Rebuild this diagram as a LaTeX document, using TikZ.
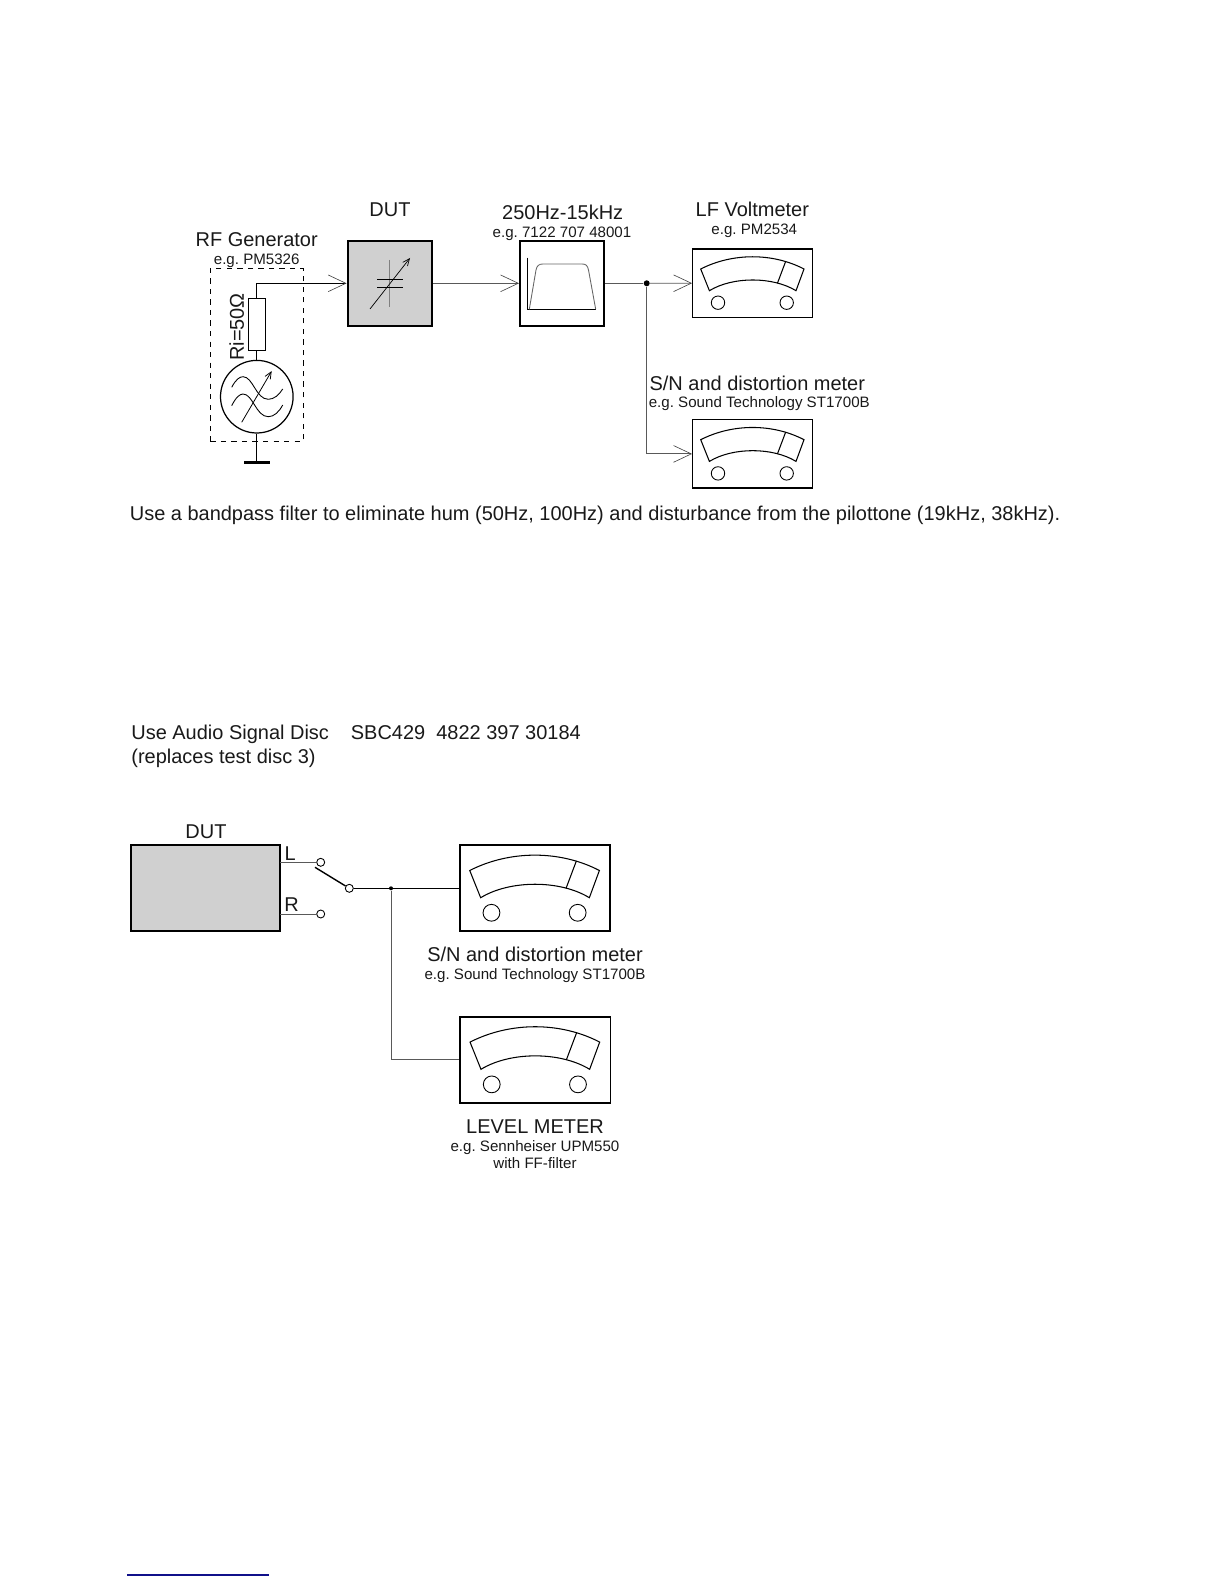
\documentclass[tikz,border=0pt]{standalone}
\usepackage{fontspec}
\setmainfont{Liberation Sans}
\usetikzlibrary{arrows.meta}
\definecolor{dutgray}{HTML}{D0D0D0}
\definecolor{linkblue}{HTML}{10108A}
\frenchspacing
\tikzset{
  bigtxt/.style={inner sep=0pt,font=\fontsize{11.37}{13}\selectfont},
  smalltxt/.style={inner sep=0pt,font=\fontsize{8.6}{10}\selectfont},
  sig/.style={black!65,line width=0.5pt},
  wire/.style={black,line width=0.6pt},
  feed/.style={-{Straight Barb[length=0.354cm,width=0.334cm,black!75,line width=0.35pt]}},
  heavybox/.style={draw,line width=1.2pt,inner sep=0pt,minimum width=84.3*0.02cm,minimum height=85.3*0.02cm},
  meterbox/.style={draw,line width=0.8pt,inner sep=0pt,minimum width=120*0.02cm,minimum height=68.3*0.02cm},
  bigmeterbox/.style={draw,line width=1pt,inner sep=0pt,minimum width=150.5*0.02cm,minimum height=86*0.02cm},
  port/.style={circle,draw,fill=white,line width=0.5pt,inner sep=0pt,minimum size=8*0.02cm},
  junction/.style={circle,fill=black,inner sep=0pt},
  dial/.pic={
    \draw[line width=0.6pt] (-52,-14.2) .. controls (-20,-30.5) and (20,-30.5) .. (51.3,-14.2)
      -- (43.3,7.5) .. controls (20,-6.8) and (-20,-6.8) .. (-43.3,7.5) -- cycle;
    \draw[line width=0.6pt] (33,-21.9) -- (24.7,0.1);
    \draw[line width=0.5pt] (-34.7,19.5) circle[radius=6.7];
    \draw[line width=0.5pt] (34,19.5) circle[radius=6.7];
  },
}
\begin{document}
\begin{tikzpicture}[x=0.02cm,y=-0.02cm,text=black!90]
\useasboundingbox (0,0) rectangle (1224,1584);
% --- top setup: blocks ---
\node[draw,dashed,line width=0.5pt,minimum width=93*0.02cm,minimum height=173*0.02cm,inner sep=0pt] (genbox) at (256.8,354.8) {};
\node[draw,line width=0.6pt,inner sep=0pt,minimum width=16.6*0.02cm,minimum height=52*0.02cm] (ri) at (256.8,324.3) {};
\node[circle,draw,line width=0.7pt,inner sep=0pt,minimum size=72.6*0.02cm] (gen) at (256.8,396.7) {};
\node[heavybox,fill=dutgray] (dut) at (389.8,283.3) {};
\node[heavybox] (bpf) at (562.2,283.3) {};
\node[meterbox] (lfmeter) at (752.7,283.2) {};
\node[meterbox] (snmeter) at (752.7,453.9) {};
\pic at (lfmeter) {dial};
\pic at (snmeter) {dial};
\node[junction,minimum size=6*0.02cm] (split) at (646.7,283.3) {};
\coordinate (snbend) at (646.7,453.9);
\coordinate (gnd) at (256.8,462.3);
% --- top setup: connectors ---
\draw[wire,feed] (ri.north) |- (dut.west);
\draw[wire] (ri.south) -- (gen.north);
\draw[wire] (gen.south) -- (gnd);
\draw[line width=1.4pt] (244,462.3) -- (270,462.3);
\draw[sig,feed] (dut.east) -- (bpf.west);
\draw[sig] (bpf.east) -- (split);
\draw[sig,feed] (split) -- (lfmeter.west);
\draw[sig] (split) -- (snbend);
\draw[sig,feed] (snbend) -- (snmeter.west);
% --- generator symbol ---
\draw[line width=0.45pt,-{Straight Barb[length=0.14cm,width=0.12cm]}] (241.7,422.3) -- (271.7,371);
\draw[line width=0.5pt] (231.7,387.3) .. controls (236,379) and (240,376.7) .. (243,376.7) .. controls (253,376.7) and (256,399.3) .. (268.3,399.3) .. controls (274,399.3) and (279,395) .. (282.7,389);
\draw[line width=0.5pt] (231.7,405.7) .. controls (236,397) and (240,394) .. (243,394) .. controls (253,394) and (256,416.7) .. (268.3,416.7) .. controls (274,416.7) and (279,412) .. (282.7,405);
% --- variable capacitor ---
\draw[black!50,line width=0.6pt] (389.7,260) -- (389.7,307.3);
\draw[line width=0.6pt] (377,279.3) -- (402.7,279.3);
\draw[line width=0.6pt] (377,287.3) -- (402.7,287.3);
\draw[line width=0.4pt,-{Straight Barb[length=0.14cm,width=0.12cm]}] (370,309) -- (410,258);
% --- filter curve ---
\draw[line width=0.6pt] (527.3,257.7) -- (527.3,309.3) -- (595.7,309.3);
\draw[black!60,line width=0.5pt] (529.3,309.3) -- (536,270) .. controls (537,265.5) and (539,264) .. (543,264)
  -- (582,264) .. controls (586,264) and (587.5,265.5) .. (588.5,270) -- (595.7,309.3);
% --- top setup: labels ---
\node[bigtxt] (rflabel) at (256.7,239.5) {RF Generator};
\node[smalltxt] (rfnote) at (256.7,260.3) {e.g. PM5326};
\node[bigtxt,rotate=90] (rilabel) at (236.7,327) {Ri=50Ω};
\node[bigtxt] (dutlabel) at (390,209.5) {DUT};
\node[bigtxt] (bpflabel) at (562.7,212.7) {250Hz-15kHz};
\node[smalltxt] (bpfnote) at (562,234) {e.g. 7122 707 48001};
\node[bigtxt] (lflabel) at (752.3,209) {LF Voltmeter};
\node[smalltxt] (lfnote) at (754.3,230.3) {e.g. PM2534};
\node[bigtxt] (snlabel) at (757.3,383.5) {S/N and distortion meter};
\node[smalltxt] (snnote) at (759.3,403.8) {e.g. Sound Technology ST1700B};
\node[bigtxt,anchor=west] (hint) at (129.5,515.5) {Use a bandpass filter to eliminate hum (50Hz, 100Hz) and disturbance from the pilottone (19kHz, 38kHz).};
% --- disc text ---
\node[bigtxt,anchor=west] (disc) at (131,734.5) {Use Audio Signal Disc};
\node[bigtxt,anchor=west] (discnr) at (350.5,732.5) {SBC429\ \ 4822 397 30184};
\node[bigtxt,anchor=west] (discnote) at (131,758) {(replaces test disc 3)};
% --- bottom setup: blocks ---
\node[draw,fill=dutgray,line width=1pt,inner sep=0pt,minimum width=149.6*0.02cm,minimum height=86*0.02cm] (dutb) at (205.5,888.3) {};
\node[bigmeterbox] (snmeterb) at (535,888.3) {};
\node[bigmeterbox] (levelmeter) at (535.3,1059.9) {};
\pic[scale=1.255] at (snmeterb) {dial};
\pic[scale=1.255] at (levelmeter) {dial};
\node[port] (portl) at (320.7,862.3) {};
\node[port] (portr) at (320.7,914) {};
\node[port] (pole) at (349.3,888.3) {};
\node[junction,minimum size=4*0.02cm] (splitb) at (391,888.3) {};
\coordinate (levelbend) at (391,1059.9);
\coordinate (leverend) at (315,867.3);
\coordinate (dutl) at (280.3,862.3);
\coordinate (dutr) at (280.3,914);
% --- bottom setup: connectors ---
\draw[sig] (dutl) -- (portl);
\draw[sig] (dutr) -- (portr);
\draw[line width=0.8pt] (leverend) -- (pole);
\draw[wire] (pole) -- (splitb);
\draw[wire] (splitb) -- (snmeterb.west);
\draw[sig] (splitb) -- (levelbend);
\draw[sig] (levelbend) -- (levelmeter.west);
% --- bottom setup: labels ---
\node[bigtxt] (dutblabel) at (206,832) {DUT};
\node[bigtxt] (llabel) at (290.3,853.3) {L};
\node[bigtxt] (rlabel) at (291.7,905) {R};
\node[bigtxt] (snlabelb) at (535,954.3) {S/N and distortion meter};
\node[smalltxt] (snnoteb) at (535,976) {e.g. Sound Technology ST1700B};
\node[bigtxt] (levellabel) at (535,1127) {LEVEL METER};
\node[smalltxt] (levelnote) at (535,1147.7) {e.g. Sennheiser UPM550};
\node[smalltxt] (levelfilter) at (535,1163.5) {with FF-filter};
% --- rule at page foot ---
\draw[linkblue,line width=0.6pt] (127,1575) -- (268.7,1575);
\end{tikzpicture}
\end{document}
